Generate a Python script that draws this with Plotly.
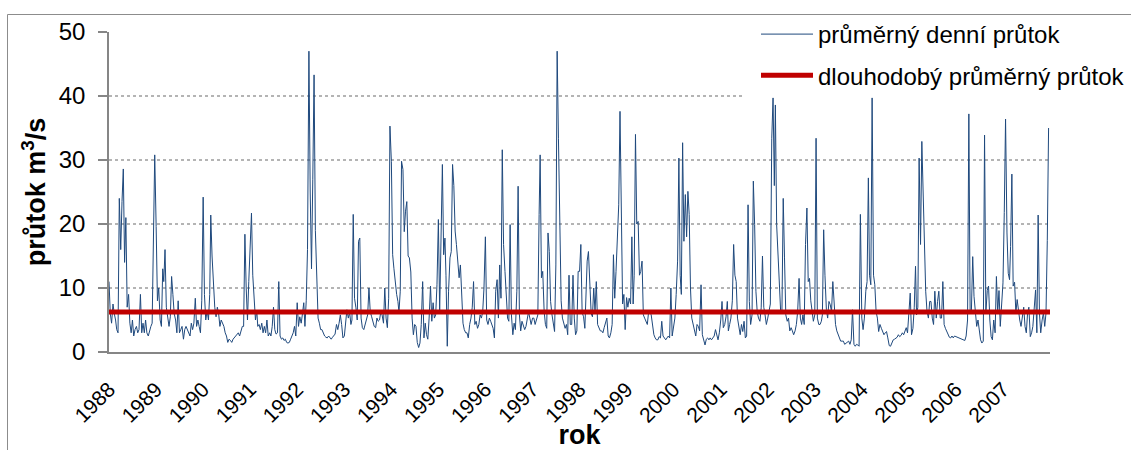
import pandas as pd
import plotly.graph_objects as go

years = list(range(1988, 2008))
q1988 = [11, 6, 4.5, 7.5, 6, 5, 3.5, 3, 24, 16, 23.5, 28.6, 14, 21, 7, 9, 4.5, 3, 5, 2.5, 3.5, 4, 3, 3.5, 9, 3, 4.5, 3, 5, 3, 2.5, 3.5, 4, 4.5, 17, 30.8]
q1989 = [19.6, 8, 10, 5, 4, 13, 11, 16, 7, 5, 4, 5.5, 11.8, 9, 6, 5, 3, 8, 3, 3.5, 4, 2, 3.5, 4, 3.5, 3, 2.5, 4.5, 3.5, 4.5, 8.4, 4, 5, 4, 3, 8]
q1990 = [24.2, 9, 5, 6.5, 5, 9, 21.4, 15, 10, 7, 5.5, 7, 6, 4, 5, 4.5, 4, 3, 2.5, 1.5, 2, 1.8, 1.5, 2, 2.3, 2.5, 2.7, 3, 2.5, 3.5, 4, 4, 18.4, 10, 5, 11]
q1991 = [17, 21.7, 12, 8, 5, 6.5, 4, 4.3, 3.5, 4.5, 3, 4, 3, 5, 2.5, 3, 2.5, 4, 7, 3.5, 2.8, 3, 11, 2.5, 2, 2.2, 1.8, 2, 1.5, 1.4, 1.5, 2, 2.5, 3, 4, 2.5]
q1992 = [7.7, 4, 5.5, 4.5, 6, 7.7, 4, 8, 16, 47, 25, 13, 27, 43.3, 19, 11, 5.3, 4.5, 3.5, 3.5, 3, 2.5, 2.3, 2.2, 2.5, 2.2, 2, 2.3, 2.5, 2.8, 4.3, 3.5, 4.5, 5.8, 4.3, 2.2]
q1993 = [2.5, 4.5, 6.6, 5.3, 6.2, 4.3, 5, 21.5, 8.4, 6.9, 5, 17.3, 17.8, 5.3, 3.8, 3.5, 4.3, 5, 5.8, 10, 6.3, 5.5, 4.8, 4, 3.8, 5.3, 4.8, 5, 6.3, 5.8, 4.5, 10, 5.3, 3.8, 8.4, 35.3]
q1994 = [29.8, 15.2, 13, 10.5, 9, 7.9, 6.2, 9.5, 29.8, 28.5, 18.8, 22, 23.5, 15, 14.7, 12.5, 5.3, 2.7, 4.3, 4, 1.5, 0.7, 1.4, 4.3, 11, 2.2, 4.5, 2.7, 2, 5.3, 10.3, 4.8, 7.7, 5.3, 5.8, 10.5]
q1995 = [20.7, 6.3, 16.3, 29.3, 15.2, 17.8, 12, 0.9, 9.5, 14.7, 15.7, 29.3, 26, 18.9, 16.8, 14, 11.6, 13.6, 7.5, 4.5, 3.5, 3, 3, 2.2, 4.3, 5.3, 7, 11, 4.3, 4.8, 3.7, 4.3, 5.8, 5.3, 6.3, 10]
q1996 = [18, 5, 4.3, 5.3, 4.8, 4.3, 3.7, 2.2, 9.5, 11.3, 5.3, 13.6, 8.4, 31.6, 16.8, 12.6, 9, 5.3, 4.8, 19.9, 5.8, 2.7, 4.5, 3.5, 9.5, 25.9, 5.8, 3.3, 4.8, 4.3, 3.5, 4, 5.3, 6.3, 5.3, 4.3]
q1997 = [5.3, 5.3, 4.3, 5, 5.8, 21.5, 30.8, 11.6, 12.6, 6.4, 4.3, 3.7, 18.6, 15.7, 7.9, 5.8, 4.3, 3.2, 13.6, 47, 33.4, 15, 8, 5.3, 4.3, 3.7, 4.3, 2.7, 12, 4.3, 4.3, 12, 5.3, 2.7, 3.3, 12.6]
q1998 = [12.6, 16.8, 6.2, 5.5, 3.7, 10.5, 14.2, 15.7, 10, 6, 5.5, 10, 6.3, 11, 4.3, 3.7, 3.3, 3.3, 3, 3.8, 4.5, 5.3, 2.5, 2.2, 3, 4.3, 15.2, 8.4, 12.6, 17.3, 23, 37.6, 20, 7.5, 9, 3.5]
q1999 = [8.5, 7, 8.4, 7.5, 18, 7.5, 12, 34, 20, 20.4, 12, 12.6, 14.2, 5.8, 5.3, 4.8, 4.3, 6.3, 6.3, 5.8, 4.3, 2.7, 2.2, 1.9, 1.9, 2.4, 2.2, 4.8, 2.5, 2.2, 1.9, 2.2, 2.5, 2.2, 10, 2.5]
q2000 = [3.7, 5.3, 9, 14.2, 30.3, 12, 9, 32.7, 17.3, 24.6, 18, 25.1, 21.5, 10, 5.3, 4.3, 3.3, 2.5, 4.3, 4, 3.3, 10.5, 2.7, 1.7, 1.1, 2, 2.2, 1.9, 2.2, 1.9, 2.2, 2.5, 3.5, 2.5, 1.9, 3]
q2001 = [5, 7.9, 3.8, 4.3, 5.5, 7.9, 3.3, 4.3, 5.3, 8, 16.8, 12, 11, 5.3, 3.7, 2.7, 4.3, 3.2, 4.8, 2.2, 2.5, 23, 7.9, 4.3, 5.8, 26.7, 19.9, 9.5, 6.3, 5.3, 4.8, 6.9, 15, 7, 5.8, 4.3]
q2002 = [5.3, 6.5, 7.5, 33.4, 39.7, 26, 38.6, 19.9, 15.5, 10.5, 6.3, 6.3, 24, 14.7, 5.8, 4.8, 5.3, 3.3, 3.8, 3.3, 2.7, 3.3, 4.3, 6.3, 11.5, 5.3, 4.3, 5.8, 4.3, 16.8, 22.5, 11, 11.5, 8, 5.8, 4.8]
q2003 = [5.8, 33.4, 5.3, 4.3, 4.3, 4.8, 5.8, 19.1, 12, 6.6, 5.3, 7.9, 7.4, 6.3, 11, 7.9, 4.3, 3.3, 2.7, 2.2, 1.7, 1.7, 1.7, 1.2, 1.4, 1.6, 1.7, 1.2, 1.9, 6.6, 1.2, 0.9, 1.2, 1.1, 0.9, 21.5]
q2004 = [5.3, 3.5, 5.3, 9.5, 11, 27.2, 12, 10.5, 39.7, 12, 10.5, 6.3, 5.3, 3.2, 4.3, 3.7, 3.2, 2.7, 3, 3.2, 2.2, 1.0, 0.9, 1.4, 1.9, 2.0, 2.2, 2.3, 2.7, 2.4, 2.6, 3, 2.7, 3.2, 3.8, 3]
q2005 = [6.4, 9.2, 2.7, 3.7, 6.9, 13.4, 5.8, 7, 30.3, 16.8, 32.9, 24.6, 14.7, 9.5, 6.4, 5.3, 7.9, 7.9, 5.3, 4.3, 9.5, 5.3, 7.9, 9.5, 5.3, 5.3, 11, 4.3, 3.7, 3.2, 2.5, 2.3, 2.2, 2.5, 2.2, 2.5]
q2006 = [2.4, 2.3, 2.2, 2.1, 2.0, 1.9, 1.8, 1.8, 2.5, 5, 37.2, 6.1, 6.5, 14.9, 8.7, 6.1, 4, 5, 3, 1.9, 1.4, 1.7, 33.9, 6.1, 9.6, 10.3, 5, 2.4, 1.9, 5, 3, 11.8, 6.1, 9.6, 4, 7]
q2007 = [10.8, 21.8, 36.4, 18.6, 12.3, 11.3, 16.5, 27.8, 10.3, 10.9, 6.1, 8.2, 6.1, 5, 4, 6.1, 7, 4, 3, 6.1, 7, 2.4, 3, 4, 6.6, 9.7, 3, 21.4, 6.1, 3, 5, 6.1, 4, 6.1, 17.4, 35]

mean_flow = 6.25
period_start = "1988-01-01"
period_end = "2008-01-01"

series_by_year = [q1988, q1989, q1990, q1991, q1992, q1993, q1994, q1995, q1996, q1997,
                  q1998, q1999, q2000, q2001, q2002, q2003, q2004, q2005, q2006, q2007]

dates, flows = [], []
for yr, arr in zip(years, series_by_year):
    for k, v in enumerate(arr):
        dates.append(pd.Timestamp(year=yr, month=k // 3 + 1, day=1 + 10 * (k % 3)))
        flows.append(v)

fig = go.Figure()
fig.add_trace(go.Scatter(
    x=dates, y=flows, mode="lines", name="průměrný denní průtok",
    line=dict(color="#1F497D", width=1), legendgroup="a"))
fig.add_trace(go.Scatter(
    x=[period_start, period_end], y=[mean_flow, mean_flow], mode="lines",
    name="dlouhodobý průměrný průtok",
    line=dict(color="#C00000", width=5), legendgroup="b"))

W, H = 1131, 450
L, R, T, B = 109, 81, 32, 98
pw, ph = W - L - R, H - T - B

def px_x(x):
    return (x - L) / pw

def px_y(y):
    return (H - B - y) / ph

grey = "#868686"
fig.update_layout(
    width=W, height=H,
    margin=dict(l=L, r=R, t=T, b=B, autoexpand=False),
    paper_bgcolor="white", plot_bgcolor="white",
    font=dict(family="Liberation Sans, Arial, sans-serif", color="black", size=20),
    showlegend=True,
    legend=dict(x=px_x(756), y=px_y(12), xanchor="left", yanchor="top",
                bgcolor="rgba(0,0,0,0)", borderwidth=0, font=dict(size=24),
                itemwidth=52, tracegroupgap=7, traceorder="grouped"),
    shapes=[
        # chart-area frame
        dict(type="rect", xref="paper", yref="paper",
             x0=px_x(7.5), x1=px_x(1140), y0=px_y(460), y1=px_y(14.5),
             line=dict(color="#8c8c8c", width=1), layer="below"),
        # white legend area (hides gridlines behind the legend)
        dict(type="rect", xref="paper", yref="paper",
             x0=px_x(744), x1=px_x(1130), y0=px_y(97), y1=px_y(16),
             line=dict(width=0), fillcolor="white", layer="above"),
    ],
)
fig.update_yaxes(
    range=[0, 50], dtick=10, tick0=0,
    showgrid=True, griddash="dot", gridcolor="#b4b4b4", gridwidth=1.5,
    showline=True, linecolor=grey, linewidth=1.5,
    ticks="outside", ticklen=9, tickcolor=grey, tickwidth=1.5,
    tickfont=dict(size=24), ticklabelstandoff=8, zeroline=False,
    title=dict(text="<b>průtok m<sup>3</sup>/s</b>", font=dict(size=27), standoff=5),
)
fig.update_xaxes(
    type="date", range=[period_start, period_end],
    tickvals=[f"{y}-01-01" for y in years], ticktext=[str(y) for y in years],
    tickangle=-45, tickfont=dict(size=21),
    showgrid=False, showline=True, linecolor=grey, linewidth=1.5,
    ticks="", ticklabelstandoff=15, zeroline=False,
    title=dict(text="<b>rok</b>", font=dict(size=27), standoff=2),
)

fig.write_html("out.html")
